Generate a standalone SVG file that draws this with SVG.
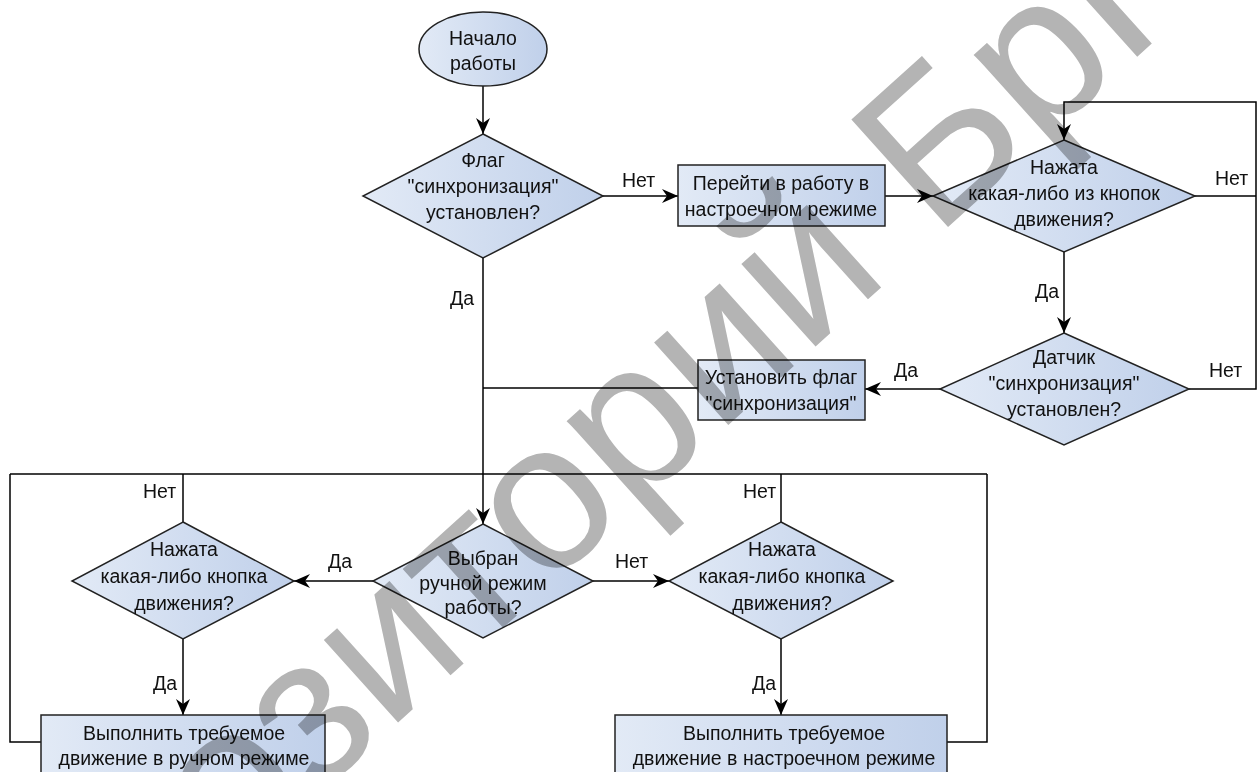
<svg xmlns="http://www.w3.org/2000/svg" width="1258" height="772" viewBox="0 0 1258 772">
<defs>
<linearGradient id="fillg" x1="0" y1="0" x2="1" y2="0">
<stop offset="0" stop-color="#e2eaf6"/>
<stop offset="1" stop-color="#c0d0ea"/>
</linearGradient>
<marker id="arr" markerWidth="16" markerHeight="14" refX="16" refY="7" orient="auto" markerUnits="userSpaceOnUse">
<path d="M0,0 L16,7 L0,14 L5,7 z" fill="#000"/>
</marker>
</defs>
<style>
.shape{fill:url(#fillg);stroke:#222;stroke-width:1.5}
.t{font-family:"Liberation Sans",Arial,sans-serif;font-size:19.5px;fill:#111;text-anchor:middle}
.lbl{font-family:"Liberation Sans",Arial,sans-serif;font-size:19.5px;fill:#111}
.c{fill:none;stroke:#000;stroke-width:1.5}
.ca{fill:none;stroke:#000;stroke-width:1.5;marker-end:url(#arr)}
.wm{font-family:"Liberation Sans",Arial,sans-serif;font-size:210px;fill:#b4b4b4;mix-blend-mode:multiply}
</style>
<rect width="1258" height="772" fill="#fff"/>
<g id="connectors">
<path class="ca" d="M483,86 L483,134"/>
<path class="ca" d="M603,196 L678,196"/>
<path class="ca" d="M885,196 L933,196"/>
<path class="c" d="M1195,196 L1256,196"/>
<path class="ca" d="M1189,389 L1256,389 L1256,102 L1064,102 L1064,140"/>
<path class="ca" d="M1064,252 L1064,333"/>
<path class="ca" d="M940,389 L865,389"/>
<path class="c" d="M698,388 L483,388"/>
<path class="ca" d="M483,258 L483,524"/>
<path class="c" d="M10,474 L987,474"/>
<path class="c" d="M41,742 L10,742 L10,474"/>
<path class="c" d="M947,742 L987,742 L987,474"/>
<path class="c" d="M183,522 L183,474"/>
<path class="c" d="M781,522 L781,474"/>
<path class="ca" d="M373,581 L294,581"/>
<path class="ca" d="M593,581 L669,581"/>
<path class="ca" d="M183,639 L183,715"/>
<path class="ca" d="M781,639 L781,715"/>
<text class="lbl" x="622" y="187">Нет</text>
<text class="lbl" x="1215" y="185">Нет</text>
<text class="lbl" x="1209" y="377">Нет</text>
<text class="lbl" x="1035" y="298">Да</text>
<text class="lbl" x="894" y="377">Да</text>
<text class="lbl" x="450" y="305">Да</text>
<text class="lbl" x="143" y="498">Нет</text>
<text class="lbl" x="743" y="498">Нет</text>
<text class="lbl" x="328" y="568">Да</text>
<text class="lbl" x="615" y="568">Нет</text>
<text class="lbl" x="153" y="690">Да</text>
<text class="lbl" x="752" y="690">Да</text>
</g>
<g id="start">
<ellipse class="shape" cx="483" cy="49" rx="64" ry="37"/>
<text class="t" x="483" y="45">Начало</text>
<text class="t" x="483" y="70">работы</text>
</g>
<g id="flag-check">
<polygon class="shape" points="483,134 603,196 483,258 363,196"/>
<text class="t" x="483" y="167">Флаг</text>
<text class="t" x="483" y="193">"синхронизация"</text>
<text class="t" x="483" y="219">установлен?</text>
</g>
<g id="setup-mode">
<rect class="shape" x="678" y="165" width="207" height="61"/>
<text class="t" x="781" y="190">Перейти в работу в</text>
<text class="t" x="781" y="216">настроечном режиме</text>
</g>
<g id="any-button">
<polygon class="shape" points="1064,140 1195,196 1064,252 933,196"/>
<text class="t" x="1064" y="174">Нажата</text>
<text class="t" x="1064" y="200">какая-либо из кнопок</text>
<text class="t" x="1064" y="226">движения?</text>
</g>
<g id="sensor-check">
<polygon class="shape" points="1064,333 1189,389 1064,445 940,389"/>
<text class="t" x="1064" y="364">Датчик</text>
<text class="t" x="1064" y="390">"синхронизация"</text>
<text class="t" x="1064" y="416">установлен?</text>
</g>
<g id="set-flag">
<rect class="shape" x="698" y="360" width="167" height="60"/>
<text class="t" x="781" y="384">Установить флаг</text>
<text class="t" x="781" y="410">"синхронизация"</text>
</g>
<g id="manual-check">
<polygon class="shape" points="483,524 593,581 483,638 373,581"/>
<text class="t" x="483" y="565">Выбран</text>
<text class="t" x="483" y="590">ручной режим</text>
<text class="t" x="483" y="614">работы?</text>
</g>
<g id="manual-button">
<polygon class="shape" points="183,522 294,581 183,639 72,581"/>
<text class="t" x="184" y="556">Нажата</text>
<text class="t" x="184" y="583">какая-либо кнопка</text>
<text class="t" x="184" y="610">движения?</text>
</g>
<g id="setup-button">
<polygon class="shape" points="781,522 893,581 781,639 669,581"/>
<text class="t" x="782" y="556">Нажата</text>
<text class="t" x="782" y="583">какая-либо кнопка</text>
<text class="t" x="782" y="610">движения?</text>
</g>
<g id="manual-move">
<rect class="shape" x="41" y="715" width="284" height="70"/>
<text class="t" x="184" y="740">Выполнить требуемое</text>
<text class="t" x="184" y="765">движение в ручном режиме</text>
</g>
<g id="setup-move">
<rect class="shape" x="615" y="715" width="332" height="70"/>
<text class="t" x="784" y="740">Выполнить требуемое</text>
<text class="t" x="784" y="765">движение в настроечном режиме</text>
</g>
<g id="watermark">
<text class="wm" transform="translate(-38,1115) rotate(-42)">Репозиторий БрГУ</text>
</g>
</svg>
